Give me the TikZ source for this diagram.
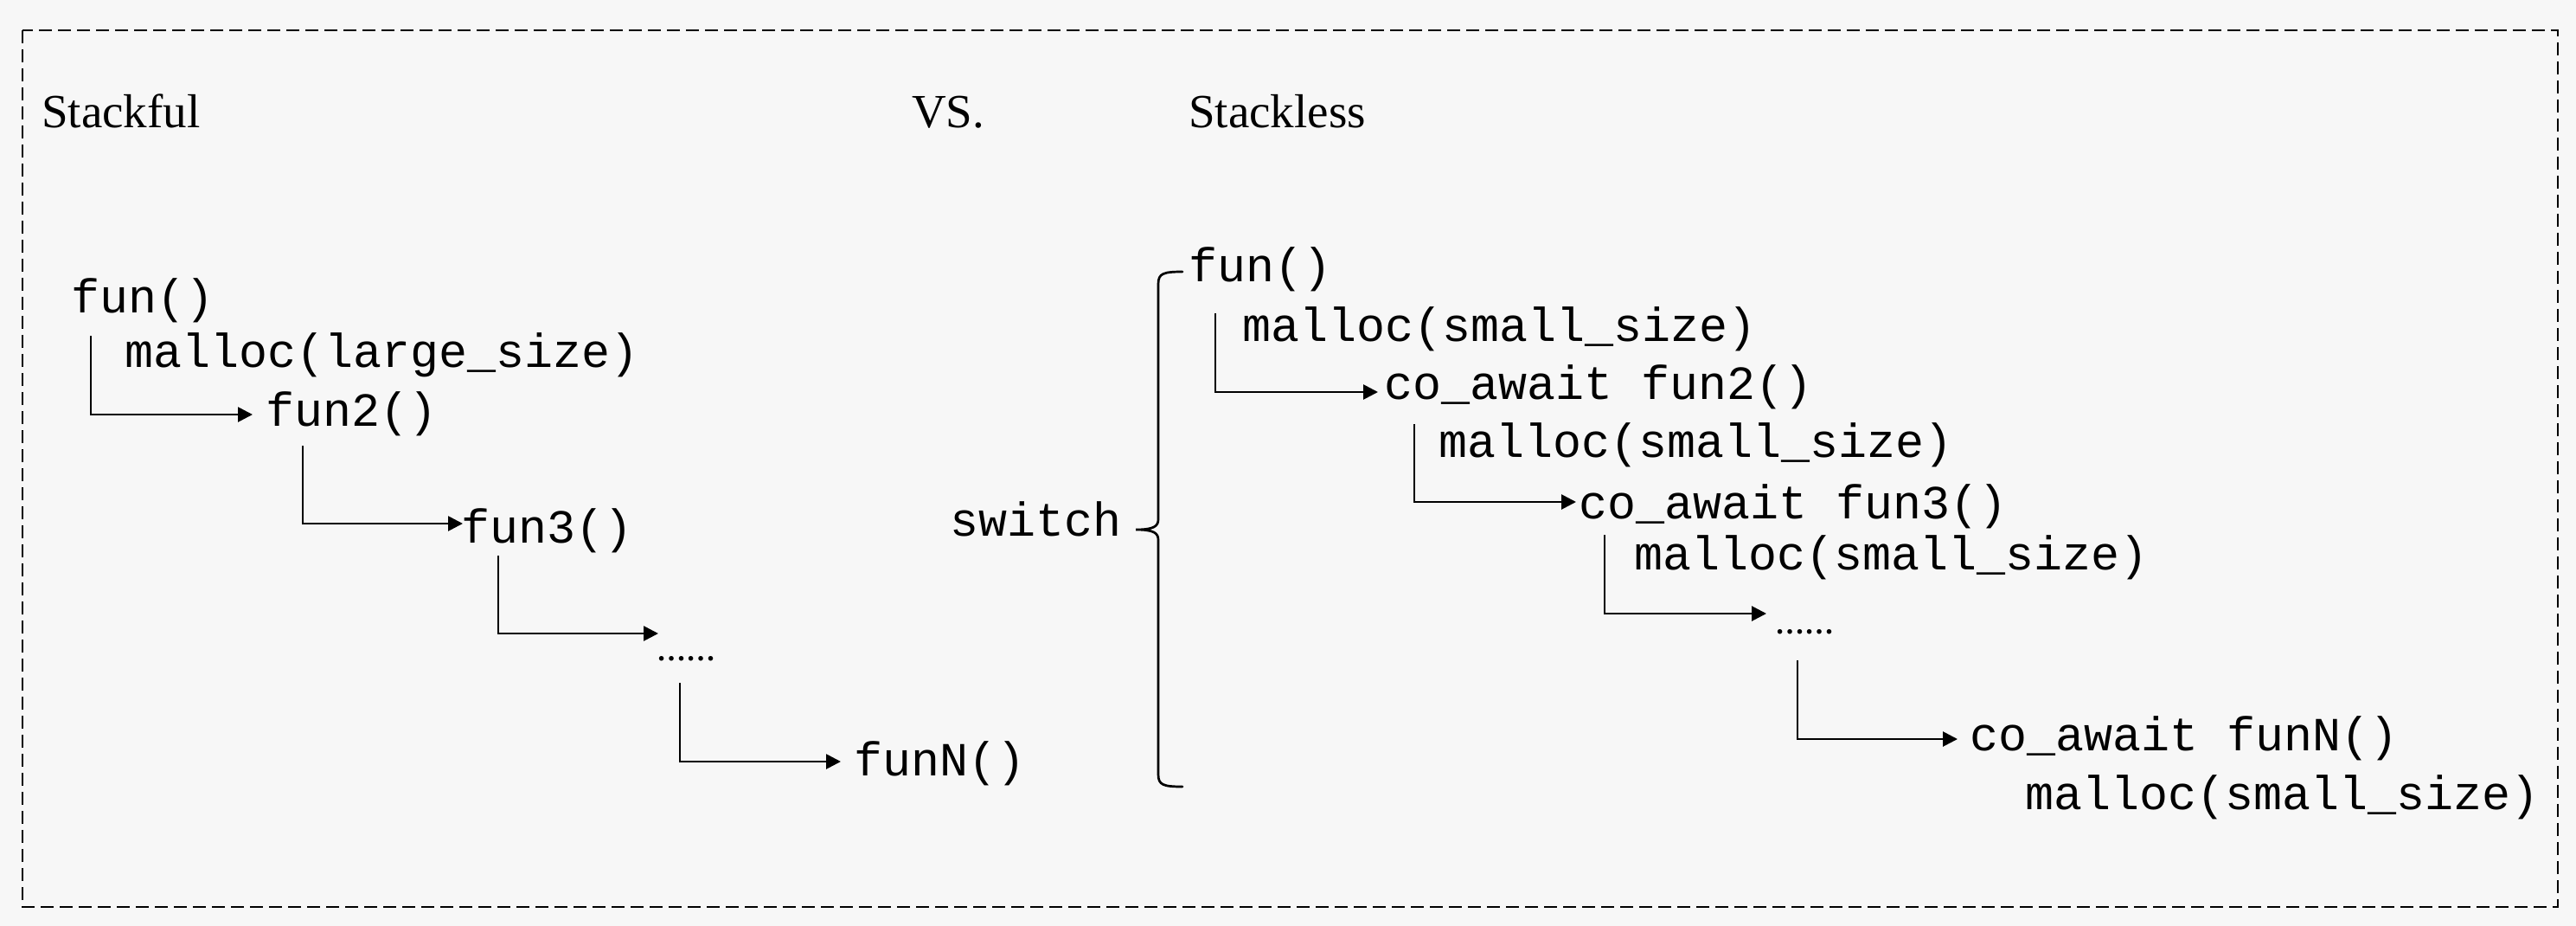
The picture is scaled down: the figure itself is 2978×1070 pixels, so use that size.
\documentclass[tikz,border=0pt]{standalone}
\usepackage{fontspec}
\setmainfont{Liberation Serif}
\setmonofont{Liberation Mono}
\usetikzlibrary{arrows.meta}
\begin{document}
\begin{tikzpicture}[x=1pt,y=-1pt,
  code/.style={inner sep=0pt, anchor=base west, font=\ttfamily\fontsize{55}{66}\selectfont},
  title/.style={inner sep=0pt, anchor=base west, font=\fontsize{55}{66}\selectfont},
  dotsym/.style={inner sep=0pt, anchor=base west, font=\bfseries\fontsize{34}{40}\selectfont},
  link/.style={line width=2.7pt, -{Triangle[length=17pt,width=17pt]}},
  bracestyle/.style={line width=2.7pt, line cap=round},
  frame/.style={line width=2pt, dash pattern=on 15pt off 7pt}]
\fill[white!97!black] (0,0) rectangle (2978,1070);
\useasboundingbox (0,0) rectangle (2978,1070);
\draw[frame] (26,35) rectangle (2957,1048);

% titles
\node[title] (tful) at (48,147) {Stackful};
\node[title] (tvs) at (1054,147) {VS.};
\node[title] (tless) at (1374,147) {Stackless};

% left column
\node[code] (lf1) at (82,361) {fun()};
\node[code] (lm1) at (144,424) {malloc(large\_size)};
\node[code] (lf2) at (307,492) {fun2()};
\node[code] (lf3) at (533,627) {fun3()};
\node[dotsym] (ld) at (759,763) {……};
\node[code] (lfN) at (987,896) {funN()};

\coordinate (la1) at (105,388); \coordinate (lb1) at (292,479);
\coordinate (la2) at (350,515); \coordinate (lb2) at (535,605);
\coordinate (la3) at (576,642); \coordinate (lb3) at (761,732);
\coordinate (la4) at (786,789); \coordinate (lb4) at (972,880);
\draw[link] (la1) |- (lb1);
\draw[link] (la2) |- (lb2);
\draw[link] (la3) |- (lb3);
\draw[link] (la4) |- (lb4);

% right column
\node[code] (sw) at (1098,619) {switch};
\node[code] (rf1) at (1374,325) {fun()};
\node[code] (rm1) at (1436,394) {malloc(small\_size)};
\node[code] (rf2) at (1600,461) {co\_await fun2()};
\node[code] (rm2) at (1663,528) {malloc(small\_size)};
\node[code] (rf3) at (1825,599) {co\_await fun3()};
\node[code] (rm3) at (1889,658) {malloc(small\_size)};
\node[dotsym] (rd) at (2052,732) {……};
\node[code] (rfN) at (2277,867) {co\_await funN()};
\node[code] (rm4) at (2341,935) {malloc(small\_size)};

\coordinate (ra1) at (1405,362); \coordinate (rb1) at (1593,453);
\coordinate (ra2) at (1635,490); \coordinate (rb2) at (1822,580);
\coordinate (ra3) at (1855,618); \coordinate (rb3) at (2042,709);
\coordinate (ra4) at (2078,763); \coordinate (rb4) at (2263,854);
\draw[link] (ra1) |- (rb1);
\draw[link] (ra2) |- (rb2);
\draw[link] (ra3) |- (rb3);
\draw[link] (ra4) |- (rb4);

% brace
\coordinate (btop) at (1367,314);
\coordinate (btip) at (1313,612);
\coordinate (bbot) at (1367,909);
\draw[bracestyle] (btop) .. controls (1345,314) and (1339,316) .. (1339,328)
  -- (1339,600) .. controls (1339,608) and (1334,612) .. (btip)
  .. controls (1334,612) and (1339,616) .. (1339,624)
  -- (1339,895) .. controls (1339,907) and (1345,909) .. (bbot);
\end{tikzpicture}
\end{document}
